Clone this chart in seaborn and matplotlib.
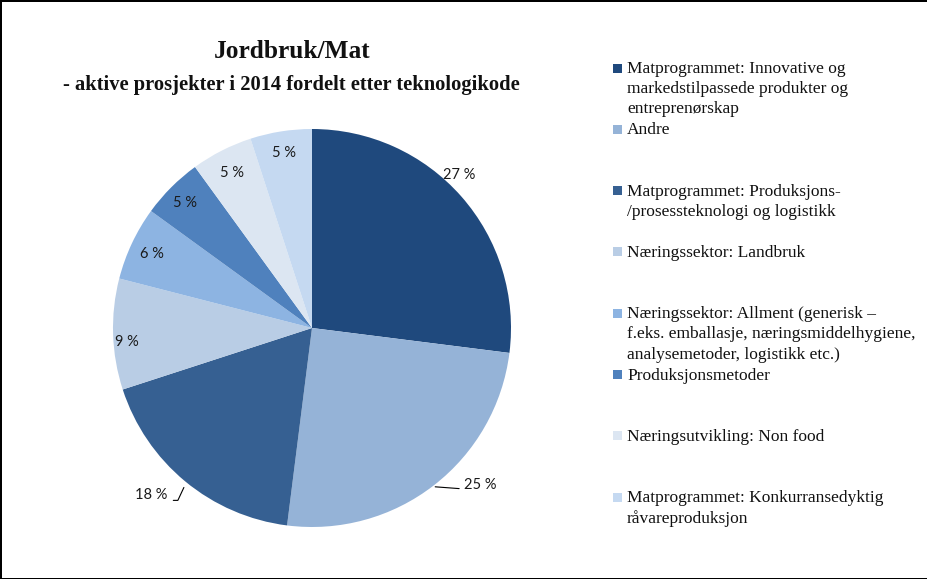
import matplotlib
matplotlib.use("Agg")
import matplotlib.pyplot as plt
from matplotlib.patches import Rectangle
import numpy as np
import seaborn as sns

sns.set_theme(style="white")

# data (andel prosjekter, %)
kategorier = [
    "Matprogrammet: Innovative og\nmarkedstilpassede produkter og\nentreprenørskap",
    "Andre",
    "Matprogrammet: Produksjons-\n/prosessteknologi og logistikk",
    "Næringssektor: Landbruk",
    "Næringssektor: Allment (generisk –\nf.eks. emballasje, næringsmiddelhygiene,\nanalysemetoder, logistikk etc.)",
    "Produksjonsmetoder",
    "Næringsutvikling: Non food",
    "Matprogrammet: Konkurransedyktig\nråvareproduksjon",
]
andel = [27, 25, 18, 9, 6, 5, 5, 5]
etiketter = ["27 %", "25 %", "18 %", "9 %", "6 %", "5 %", "5 %", "5 %"]
farger = ["#1F497D", "#95B3D7", "#366092", "#B9CDE5",
          "#8DB4E2", "#4F81BD", "#DCE6F2", "#C5D9F1"]

# plassering av etiketter: andel av radius og vinkeljustering (grader)
lab_r = [1.07, 1.13, 1.16, 0.93, 0.89, 0.90, 0.885, 0.90]
lab_dv = [5, 0, 0, 2, 0, 0, 0, 0]

W, H = 928, 579
fig = plt.figure(figsize=(W / 100, H / 100), dpi=100)
fig.patch.set_facecolor("white")
fig.patch.set_edgecolor("black")
fig.patch.set_linewidth(2)

cx, cy, r = 312, 328, 199
ax = fig.add_axes([(cx - r) / W, (H - cy - r) / H, 2 * r / W, 2 * r / H])
wedges, _ = ax.pie(andel, colors=farger, startangle=90, counterclock=False,
                   radius=1, wedgeprops={"linewidth": 0})
ax.set_xlim(-1, 1)
ax.set_ylim(-1, 1)
ax.set_aspect("equal")
ax.axis("off")

pct_font = {"family": "Lato", "size": 10.5, "color": "#1a1a1a"}
for w, lab, rr, dv in zip(wedges, etiketter, lab_r, lab_dv):
    mid = np.deg2rad((w.theta1 + w.theta2) / 2 + dv)
    x, y = np.cos(mid), np.sin(mid)
    if lab == "25 %":
        ax.annotate(lab, xy=(x * 1.01, y * 1.01), xytext=(x + 0.15, y + 0.01),
                    ha="left", va="center_baseline", **pct_font,
                    arrowprops=dict(arrowstyle="-", color="black", lw=0.8,
                                    shrinkA=1, shrinkB=0, relpos=(0, 0.2)))
    elif lab == "18 %":
        ax.annotate(lab, xy=(x * 1.01, y * 1.04), xytext=(x - 0.09, y - 0.06),
                    ha="right", va="center_baseline", **pct_font,
                    arrowprops=dict(arrowstyle="-", color="black", lw=0.8,
                                    shrinkA=2, shrinkB=0, relpos=(1, 0.1),
                                    connectionstyle="angle,angleA=0,angleB=65,rad=0"))
    else:
        ax.text(rr * x, rr * y, lab, ha="center", va="center_baseline", **pct_font)

serif = "Liberation Serif"
fig.text(292 / W, 1 - 52 / H, "Jordbruk/Mat", ha="center", va="center",
         family=serif, fontsize=18.3, fontweight="bold", color="#111111")
fig.text(291 / W, 1 - 85 / H, "- aktive prosjekter i 2014 fordelt etter teknologikode",
         ha="center", va="center", family=serif, fontsize=14.8, fontweight="bold",
         color="#111111")

# legende
y0, step = 68, 61.3
for i, (kat, col) in enumerate(zip(kategorier, farger)):
    yc = y0 + i * step
    fig.patches.append(Rectangle((613 / W, 1 - (yc + 4.5) / H), 9 / W, 9 / H,
                                 transform=fig.transFigure, facecolor=col,
                                 edgecolor="none"))
    fig.text(627 / W, 1 - (yc - 7) / H, kat, ha="left", va="top",
             family=serif, fontsize=12.5, color="#111111", linespacing=1.35)

fig.savefig("out.png", dpi=100, facecolor=fig.get_facecolor(),
            edgecolor=fig.get_edgecolor())
